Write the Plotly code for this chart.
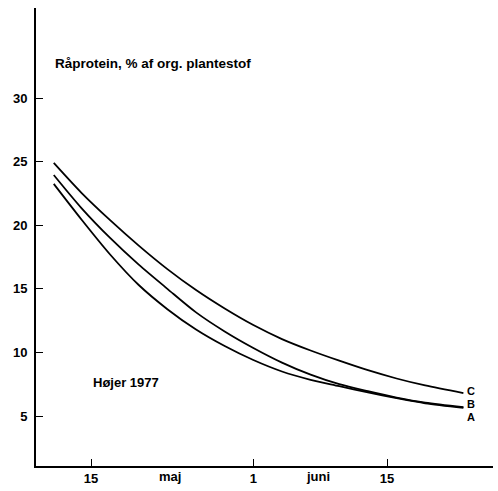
import plotly.graph_objects as go

# x = day counted from 1 May (15 = 15 maj, 32 = 1 juni, 46 = 15 juni)
days = [11.1, 14, 17, 20, 23, 26, 29, 32, 35, 38, 41, 44, 47, 50, 54]
C_vals = [24.9, 22.55, 20.4, 18.4, 16.55, 14.9, 13.45, 12.15, 11.05, 10.15, 9.35, 8.6, 7.95, 7.4, 6.8]
B_vals = [23.95, 21.35, 19.0, 16.9, 15.0, 13.15, 11.65, 10.35, 9.2, 8.25, 7.5, 6.95, 6.45, 6.05, 5.7]
A_vals = [23.25, 20.45, 17.7, 15.3, 13.4, 11.8, 10.5, 9.4, 8.5, 7.85, 7.35, 6.85, 6.4, 6.0, 5.65]
series_labels = ["C", "B", "A"]
label_y = [7.0, 5.95, 4.9]

x_tickvals = [15, 32, 46]
x_ticktext = ["15", "1", "15"]
month_pos = [23.3, 38.8]
month_text = ["maj", "juni"]
y_tickvals = [5, 10, 15, 20, 25, 30]

FONT = "Liberation Sans, Arial, sans-serif"

fig = go.Figure()
for v in [C_vals, B_vals, A_vals]:
    fig.add_trace(go.Scatter(x=days, y=v, mode="lines",
                             line=dict(color="black", width=1.8, shape="spline", smoothing=0.8),
                             showlegend=False, hoverinfo="skip"))

def tf(size):
    return dict(size=size, color="black", family=FONT, weight="bold")

ann = []
for p, t in zip(month_pos, month_text):
    ann.append(dict(x=p, y=-0.024, xref="x", yref="paper", text=t, showarrow=False,
                    xanchor="center", yanchor="middle", font=tf(13)))
ann.append(dict(x=11.0, y=32.7, xref="x", yref="y", text="Råprotein, % af org. plantestof",
                showarrow=False, xanchor="left", yanchor="middle", font=tf(13.5)))
ann.append(dict(x=15.0, y=7.6, xref="x", yref="y", text="Højer 1977",
                showarrow=False, xanchor="left", yanchor="middle", font=tf(13)))
for lab, yv in zip(series_labels, label_y):
    ann.append(dict(x=54.3, y=yv, xref="x", yref="y", text=lab, showarrow=False,
                    xanchor="left", yanchor="middle", font=tf(11), borderpad=0))

fig.update_layout(
    width=498, height=491,
    margin=dict(l=36, r=5, t=8, b=25),
    paper_bgcolor="white", plot_bgcolor="white",
    annotations=ann,
    font=dict(family=FONT, size=13, color="black"),
)
fig.update_xaxes(range=[9.24, 57.1], showgrid=False, zeroline=False,
                 showline=True, linecolor="black", linewidth=1.6,
                 ticks="inside", ticklen=7, tickwidth=1.2, tickcolor="black",
                 tickvals=x_tickvals, ticktext=x_ticktext,
                 tickfont=tf(13))
fig.update_yaxes(range=[1.07, 37.08], showgrid=False, zeroline=False,
                 showline=True, linecolor="black", linewidth=2,
                 ticks="inside", ticklen=7, tickwidth=1.2, tickcolor="black",
                 tickvals=y_tickvals, ticklabelstandoff=4,
                 tickfont=tf(13))

fig.write_html("out.html")
